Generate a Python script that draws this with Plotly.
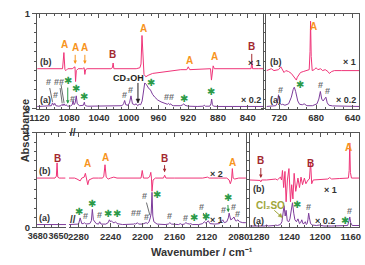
import math
import plotly.graph_objects as go

# ---------------- data (wavenumber / cm-1, absorbance as displayed) ----------------
TL_B = [(1123, 0.42), (1110, 0.42), (1100, 0.425), (1092, 0.42), (1089, 0.42), (1087.2, 0.59), (1085.8, 0.41),
        (1084.5, 0.40), (1082, 0.42), (1076, 0.42), (1073.5, 0.43), (1072.3, 0.44), (1071.5, 0.285), (1070.5, 0.40),
        (1068, 0.42), (1062, 0.42), (1060, 0.43), (1059, 0.36), (1058, 0.41), (1056, 0.42), (1040, 0.42),
        (1024, 0.42), (1022, 0.43), (1021, 0.48), (1020, 0.42), (1005, 0.42), (990, 0.42), (985, 0.43),
        (983.5, 0.47), (982.2, 0.77), (981, 0.50), (979.5, 0.36), (977, 0.335), (974, 0.35), (968, 0.37),
        (960, 0.38), (950, 0.39), (940, 0.40), (930, 0.41), (922, 0.41), (920, 0.44), (918, 0.41), (905, 0.415),
        (892, 0.42), (890, 0.42), (888.8, 0.30), (887.8, 0.41), (886.5, 0.45), (885, 0.42), (870, 0.42),
        (850, 0.42), (837, 0.42), (835.5, 0.42), (834.5, 0.50), (833.5, 0.42), (825, 0.42), (819, 0.42)]

TL_A = [(1123, 0.022), (1108, 0.023), (1104, 0.03), (1102.5, 0.06), (1101, 0.035), (1099.5, 0.055), (1098, 0.03),
        (1094, 0.025), (1091, 0.03), (1089.5, 0.045), (1088.5, 0.03), (1087, 0.05), (1085.5, 0.03), (1084.5, 0.04),
        (1083.3, 0.03), (1082, 0.025), (1078, 0.028), (1076, 0.04), (1074.8, 0.085), (1073.5, 0.04), (1072, 0.06),
        (1070.6, 0.134), (1069.2, 0.05), (1066, 0.03), (1061, 0.035), (1059.7, 0.067), (1059, 0.04), (1058.2, 0.03),
        (1055, 0.025), (1040, 0.025), (1020, 0.025), (1009, 0.03), (1007, 0.05), (1005.5, 0.085), (1004, 0.04),
        (1001, 0.035), (999, 0.06), (997, 0.134), (995, 0.05), (992, 0.04), (990, 0.05), (988, 0.03), (986, 0.045),
        (984, 0.04), (982, 0.08), (980, 0.20), (978.5, 0.27), (976, 0.25), (973, 0.21), (971, 0.20), (968, 0.15),
        (965, 0.12), (961, 0.09), (956.5, 0.07), (952, 0.055), (948, 0.045), (946.5, 0.055), (945, 0.04),
        (943.5, 0.05), (942, 0.035), (940, 0.03), (936, 0.028), (930, 0.03), (927.5, 0.04), (926, 0.05),
        (924.5, 0.035), (920, 0.025), (908, 0.022), (900, 0.025), (898.5, 0.035), (897, 0.025), (891, 0.025),
        (889.5, 0.05), (888.5, 0.10), (887.5, 0.04), (886, 0.025), (880, 0.022), (860, 0.022), (840, 0.022),
        (825, 0.022), (819, 0.022)]

TR_B = [(734, 0.40), (729, 0.42), (726, 0.40), (721, 0.41), (718.5, 0.44), (717, 0.41), (715, 0.38), (713, 0.40),
        (710, 0.39), (707, 0.37), (704.5, 0.34), (703, 0.31), (701.5, 0.30), (700.5, 0.33), (699, 0.35),
        (697, 0.38), (694, 0.39), (690, 0.40), (687.5, 0.41), (686.6, 0.60), (686, 0.92), (685.3, 0.55),
        (684.2, 0.40), (682, 0.41), (680, 0.43), (678, 0.41), (675, 0.42), (673, 0.40), (670, 0.41), (667, 0.39),
        (665.5, 0.37), (663, 0.39), (660, 0.40), (652, 0.40), (642, 0.40), (633, 0.40)]

TR_A = [(734, 0.022), (728, 0.025), (724, 0.03), (722.3, 0.06), (721, 0.145), (719.7, 0.06), (718, 0.04),
        (716.5, 0.045), (714, 0.035), (710, 0.05), (707, 0.12), (705, 0.20), (703.8, 0.225), (702.3, 0.18),
        (700, 0.08), (698, 0.045), (695, 0.04), (693, 0.05), (690, 0.03), (684, 0.03), (679, 0.05), (677, 0.10),
        (675.3, 0.18), (673.8, 0.10), (672.3, 0.08), (670.8, 0.10), (669.3, 0.12), (667.8, 0.06), (666, 0.035),
        (662, 0.028), (655, 0.025), (645, 0.022), (633, 0.022)]

BLL_B = [(3682, 0.52), (3670, 0.52), (3660, 0.525), (3655, 0.52), (3653, 0.54), (3652, 0.68), (3651, 0.53),
         (3649, 0.52), (3645, 0.52), (3640, 0.52)]
BLL_A = [(3682, 0.03), (3660, 0.03), (3645, 0.03), (3639, 0.03)]

BLR_B = [(2292, 0.52), (2285, 0.52), (2282, 0.51), (2278, 0.49), (2276, 0.52), (2273, 0.53), (2271.5, 0.57),
         (2270, 0.52), (2268.5, 0.45), (2267, 0.50), (2265, 0.51), (2262, 0.52), (2255, 0.52), (2250, 0.52),
         (2248.5, 0.54), (2247, 0.66), (2245.5, 0.53), (2243, 0.51), (2240, 0.52), (2236, 0.53), (2232, 0.52),
         (2220, 0.52), (2210, 0.52), (2202, 0.52), (2200.5, 0.60), (2199, 0.52), (2193, 0.52), (2191, 0.54),
         (2189.8, 0.58), (2189, 0.52), (2188.3, 0.38), (2187, 0.50), (2184, 0.52), (2178, 0.52), (2174, 0.52),
         (2172.5, 0.55), (2171, 0.52), (2160, 0.52), (2140, 0.52), (2125, 0.52), (2119, 0.53), (2117, 0.52),
         (2105, 0.52), (2095, 0.52), (2092, 0.50), (2090.5, 0.46), (2089, 0.50), (2088, 0.62), (2087, 0.52),
         (2085, 0.51), (2080, 0.52), (2071, 0.52)]

BLR_A = [(2292, 0.03), (2285, 0.03), (2280, 0.035), (2278, 0.10), (2276, 0.04), (2274, 0.04), (2272.7, 0.05),
         (2271, 0.035), (2266, 0.04), (2264, 0.07), (2262.8, 0.19), (2261.5, 0.08), (2260.5, 0.07), (2258, 0.04),
         (2255, 0.035), (2253.6, 0.06), (2252, 0.035), (2246, 0.035), (2243, 0.05), (2241.5, 0.08), (2240.2, 0.06),
         (2239, 0.07), (2237, 0.05), (2235, 0.05), (2234, 0.06), (2232, 0.04), (2225, 0.03), (2214, 0.03),
         (2211, 0.035), (2210, 0.04), (2208.5, 0.035), (2206.6, 0.05), (2205, 0.035), (2200, 0.035), (2197, 0.04),
         (2195.6, 0.05), (2194, 0.04), (2192, 0.06), (2190.5, 0.10), (2189.3, 0.15), (2188.3, 0.37), (2187.3, 0.12),
         (2186, 0.06), (2182, 0.035), (2172, 0.03), (2168, 0.035), (2166, 0.05), (2164, 0.035), (2155, 0.03),
         (2153, 0.04), (2151, 0.03), (2148, 0.035), (2146, 0.05), (2144, 0.04), (2141, 0.035), (2140, 0.04),
         (2138, 0.03), (2130, 0.03), (2125, 0.04), (2123, 0.06), (2121, 0.045), (2119, 0.06), (2118, 0.07),
         (2116, 0.04), (2110, 0.035), (2104, 0.04), (2102, 0.06), (2100, 0.08), (2098, 0.05), (2095, 0.06),
         (2093, 0.10), (2092, 0.15), (2090, 0.08), (2088, 0.09), (2086, 0.11), (2084, 0.07), (2082.5, 0.07),
         (2081, 0.08), (2079, 0.06), (2075, 0.05), (2071, 0.05)]

BR_B = [(1292, 0.50), (1280, 0.50), (1278.5, 0.495), (1277.6, 0.48), (1276.5, 0.50), (1270, 0.50), (1262, 0.505),
        (1258, 0.51), (1256, 0.50), (1253, 0.52), (1252, 0.53), (1250.5, 0.50), (1249.3, 0.60), (1247.7, 0.42),
        (1246, 0.59), (1244.5, 0.27), (1242.8, 0.50), (1240.8, 0.62), (1238.8, 0.27), (1237.2, 0.45),
        (1235.6, 0.30), (1234, 0.57), (1231.9, 0.38), (1229, 0.52), (1227, 0.42), (1225, 0.53), (1223, 0.45),
        (1220.6, 0.52), (1218.6, 0.46), (1215.8, 0.50), (1214, 0.51), (1212.5, 0.69), (1211, 0.46), (1209, 0.50),
        (1200, 0.505), (1190, 0.51), (1187.5, 0.525), (1185, 0.51), (1175, 0.515), (1167, 0.515), (1163, 0.52),
        (1162, 0.60), (1161.2, 0.89), (1160.4, 0.58), (1159, 0.52), (1149, 0.52)]

BR_A = [(1292, 0.015), (1280, 0.015), (1272, 0.015), (1270, 0.025), (1268, 0.015), (1260, 0.02), (1258, 0.025),
        (1256, 0.02), (1252, 0.03), (1250, 0.06), (1249, 0.12), (1247.2, 0.23), (1245.7, 0.12), (1244.5, 0.18),
        (1243, 0.07), (1241, 0.06), (1239.5, 0.09), (1238, 0.20), (1236.2, 0.26), (1234.5, 0.15), (1233, 0.08),
        (1231, 0.06), (1229, 0.09), (1227, 0.04), (1225.5, 0.05), (1224, 0.08), (1222.5, 0.04), (1221, 0.04),
        (1219.4, 0.06), (1218, 0.03), (1217, 0.04), (1216, 0.08), (1215, 0.15), (1214, 0.10), (1212.5, 0.04),
        (1210, 0.025), (1205, 0.02), (1201, 0.025), (1195, 0.015), (1185, 0.015), (1175, 0.015), (1168.5, 0.02),
        (1164, 0.02), (1162.5, 0.06), (1161.2, 0.11), (1160, 0.05), (1158, 0.02), (1149, 0.02)]

# ---------------- styling ----------------
PINK = "#ef3478"
PURPLE = "#7d3c9b"
ORANGE = "#f7941d"
DARKRED = "#a3282e"
GRAY = "#6d6e71"
GREEN = "#2b9a48"
OLIVE = "#a0a63a"
DARK = "#333333"
AX = "#555555"
FONT = "Liberation Sans"
W, H = 365, 265

TOP = (8, 107)
BOT = (132, 231)

# panel geometry: (pixel domain, wavenumber range, row)
PANELS = {
    1: ((29, 263), [1123.3, 819], TOP),
    2: ((266, 362), [734.4, 633], TOP),
    3: ((29, 59), [3681, 3639], BOT),
    4: ((62, 245), [2292, 2071], BOT),
    5: ((249, 362), [1292, 1149], BOT),
}


def px(v):
    return v / W


def py(v):
    return 1 - v / H


fig = go.Figure()


def add(pts, k, color):
    xs = [p[0] for p in pts]
    ys = [p[1] for p in pts]
    s = "" if k == 1 else str(k)
    fig.add_trace(go.Scatter(x=xs, y=ys, xaxis="x" + s, yaxis="y" + s, mode="lines",
                             line=dict(color=color, width=1), hoverinfo="skip", showlegend=False))


add(TL_B, 1, PINK); add(TL_A, 1, PURPLE)
add(TR_B, 2, PINK); add(TR_A, 2, PURPLE)
add(BLL_B, 3, PINK); add(BLL_A, 3, PURPLE)
add(BLR_B, 4, PINK); add(BLR_A, 4, PURPLE)
add(BR_B, 5, PINK); add(BR_A, 5, PURPLE)

tickfont = dict(family=FONT, size=9.5, color=DARK, weight="bold")


def xax(k, tick0=0, dtick=40):
    dom, rng, row = PANELS[k]
    s = "" if k == 1 else str(k)
    return dict(domain=[px(dom[0]), px(dom[1])], range=rng, anchor="y" + s, showline=True, linecolor=AX,
                linewidth=1, mirror="ticks", ticks="inside", ticklen=4, tickcolor=AX, tickwidth=1,
                tickmode="linear", tick0=tick0, dtick=dtick, tickfont=tickfont, tickangle=0,
                showgrid=False, zeroline=False,
                minor=dict(ticks="inside", ticklen=2, tickmode="linear", tick0=0, dtick=10, tickcolor=AX,
                           showgrid=False))


def yax(k, labels=True, mirror=True, side="left", ticks=True):
    dom, rng, row = PANELS[k]
    s = "" if k == 1 else str(k)
    d = dict(domain=[py(row[1]), py(row[0])], range=[0, 1], anchor="x" + s, side=side, showline=True,
             linecolor=AX, linewidth=1, mirror=mirror, tickmode="linear", tick0=0, dtick=1,
             showticklabels=labels, tickfont=tickfont, showgrid=False, zeroline=False)
    if ticks:
        d.update(ticks="outside", ticklen=4, tickcolor=AX, tickwidth=1,
                 minor=dict(ticks="outside", ticklen=2, tickmode="linear", tick0=0, dtick=0.1, tickcolor=AX,
                            showgrid=False))
    else:
        d.update(ticks="")
    return d


x3 = xax(3, tick0=3650, dtick=30)
x3["tickfont"] = dict(family=FONT, size=9, color=DARK, weight="bold")

fig.update_layout(
    width=W, height=H, margin=dict(l=0, r=0, t=0, b=0), paper_bgcolor="white", plot_bgcolor="white",
    font=dict(family=FONT, color=DARK),
    xaxis=xax(1), yaxis=yax(1),
    xaxis2=xax(2), yaxis2=yax(2, labels=False),
    xaxis3=x3, yaxis3=yax(3, mirror=False),
    xaxis4=xax(4), yaxis4=yax(4, labels=False, mirror=False, side="right", ticks=False),
    xaxis5=xax(5), yaxis5=yax(5, labels=False),
)


def T(text, k, x, y, color, size=10, xanchor="center", family=FONT, head=None, arrowhead=2):
    s = "" if k == 1 else str(k)
    d = dict(text=text, xref="x" + s, yref="y" + s, x=x, y=y, showarrow=False, xanchor=xanchor, yanchor="middle",
             font=dict(family=family, size=size, color=color, weight="bold"), borderpad=0)
    if head is not None:
        d.update(showarrow=True, axref="x" + s, ayref="y" + s, ax=x, ay=y, x=head[0], y=head[1],
                 arrowcolor=color, arrowwidth=1, arrowhead=arrowhead, arrowsize=0.7, standoff=0, startstandoff=1)
    fig.add_annotation(**d)


def scales(k):
    dom, rng, row = PANELS[k]
    sx = (dom[1] - dom[0]) / (rng[0] - rng[1])  # px per cm-1 (reversed axis)
    sy = (row[1] - row[0]) / 1.0               # px per absorbance unit
    return sx, sy


def line_arrow(k, tail, head, color, with_head=True):
    s = "" if k == 1 else str(k)
    fig.add_shape(type="line", xref="x" + s, yref="y" + s, x0=tail[0], y0=tail[1], x1=head[0], y1=head[1],
                  line=dict(color=color, width=1))
    if not with_head:
        return
    sx, sy = scales(k)
    dxp = -(head[0] - tail[0]) * sx
    dyp = -(head[1] - tail[1]) * sy
    n = math.hypot(dxp, dyp)
    ux, uy = dxp / n, dyp / n
    L, hw = 4.0, 2.0
    bx, by = -L * ux, -L * uy
    pts = [(0, 0), (bx - hw * uy, by + hw * ux), (bx + hw * uy, by - hw * ux)]
    coords = [(head[0] - ox / sx, head[1] - oy / sy) for ox, oy in pts]
    path = "M {} {} L {} {} L {} {} Z".format(*[c for p in coords for c in p])
    fig.add_shape(type="path", xref="x" + s, yref="y" + s, path=path, fillcolor=color,
                  line=dict(color=color, width=0.5))


STAR = "✱"
SF = "DejaVu Sans"

# top-left
T("A", 1, 1087, 0.67, ORANGE)
T("A", 1, 1072, 0.64, ORANGE, head=(1072, 0.47))
T("A", 1, 1059, 0.64, ORANGE, head=(1059, 0.47))
T("B", 1, 1022, 0.57, DARKRED)
T("A", 1, 980.6, 0.84, ORANGE)
T("A", 1, 918.7, 0.51, ORANGE)
T("A", 1, 885, 0.55, ORANGE)
T("B", 1, 834.6, 0.65, DARKRED, head=(834.6, 0.50), arrowhead=0)
T("(b)", 1, 1120.5, 0.49, DARK, size=9, xanchor="left")
T("(a)", 1, 1120.5, 0.085, DARK, size=9, xanchor="left")
T("× 1", 1, 821, 0.48, DARK, size=9, xanchor="right")
T("× 0.2", 1, 821, 0.085, DARK, size=9, xanchor="right")
T("#", 1, 1108, 0.285, GRAY, size=9, head=(1102.5, 0.07), arrowhead=0)
T("#", 1, 1099, 0.145, GRAY, size=9)
T("##", 1, 1093.5, 0.285, GRAY, size=9, head=(1089.5, 0.055), arrowhead=0)
line_arrow(1, (1091, 0.25), (1087, 0.06), GRAY, with_head=False)
T(STAR, 1, 1082, 0.295, GREEN, size=10, family=SF, head=(1082, 0.05), arrowhead=2)
T("#", 1, 1075.6, 0.10, GRAY, size=9)
T(STAR, 1, 1070.6, 0.21, GREEN, size=10, family=SF)
T(STAR, 1, 1060, 0.125, GREEN, size=10, family=SF)
T("#", 1, 1005.5, 0.145, GRAY, size=9)
T("#", 1, 998, 0.2, GRAY, size=9)
T("CD₃OH", 1, 1000, 0.32, "#231f20", size=9)
line_arrow(1, (987.6, 0.27), (987.6, 0.06), "#231f20")
T(STAR, 1, 970, 0.27, GREEN, size=10, family=SF)
T("##", 1, 946, 0.117, GRAY, size=9)
T(STAR, 1, 926, 0.11, GREEN, size=10, family=SF)
T(STAR, 1, 890, 0.18, GREEN, size=10, family=SF)

# top-right
T("A", 2, 683, 0.87, ORANGE)
T("(b)", 2, 731.5, 0.49, DARK, size=9, xanchor="left")
T("× 1", 2, 635, 0.49, DARK, size=9, xanchor="right")
T("(a)", 2, 731.5, 0.085, DARK, size=9, xanchor="left")
T("× 0.2", 2, 635, 0.085, DARK, size=9, xanchor="right")
T("#", 2, 718.5, 0.2, GRAY, size=9)
T(STAR, 2, 698, 0.25, GREEN, size=10, family=SF)
T("#", 2, 675.5, 0.245, GRAY, size=9)
T("#", 2, 668, 0.19, GRAY, size=9)

# bottom-left (left segment)
T("B", 3, 3652, 0.73, DARKRED)
T("(b)", 3, 3680, 0.59, DARK, size=9, xanchor="left")
T("(a)", 3, 3680, 0.10, DARK, size=9, xanchor="left")

# bottom-left (right segment)
T("A", 4, 2269, 0.67, ORANGE)
T("A", 4, 2247, 0.74, ORANGE)
T("B", 4, 2172.6, 0.73, DARKRED, head=(2172.6, 0.58))
T("× 2", 4, 2099, 0.56, DARK, size=9, xanchor="right")
T("A", 4, 2088, 0.68, ORANGE)
T(STAR, 4, 2279, 0.17, GREEN, size=10, family=SF)
T("#", 4, 2271, 0.125, GRAY, size=9)
T(STAR, 4, 2263, 0.25, GREEN, size=10, family=SF)
T("#", 4, 2253.5, 0.13, GRAY, size=9)
T(STAR, 4, 2243, 0.15, GREEN, size=10, family=SF)
T(STAR, 4, 2232.5, 0.15, GREEN, size=10, family=SF)
T("##", 4, 2208, 0.15, GRAY, size=9)
T("#", 4, 2195.6, 0.11, GRAY, size=9)
T("#", 4, 2197.4, 0.33, GRAY, size=9, head=(2191, 0.13), arrowhead=0)
T(STAR, 4, 2181.6, 0.35, GREEN, size=10, family=SF)
T("#", 4, 2166, 0.125, GRAY, size=9)
T("#", 4, 2146, 0.10, GRAY, size=9)
T(STAR, 4, 2136, 0.10, GREEN, size=10, family=SF)
T("#", 4, 2127, 0.22, GRAY, size=9, head=(2121, 0.07), arrowhead=0)
T(STAR, 4, 2120.5, 0.12, GREEN, size=10, family=SF)
T("× 1", 4, 2099, 0.075, DARK, size=9, xanchor="right")
T("#", 4, 2099, 0.185, GRAY, size=9)
T(STAR, 4, 2094, 0.31, GREEN, size=10, family=SF, head=(2093, 0.16))
T("#", 4, 2086, 0.21, GRAY, size=9)
T("#", 4, 2081, 0.14, GRAY, size=9)

# bottom-right
T("B", 5, 1277.6, 0.70, DARKRED, head=(1277.6, 0.52))
T("B", 5, 1212, 0.67, DARKRED)
T("A", 5, 1163.5, 0.84, ORANGE)
T("(b)", 5, 1289, 0.41, DARK, size=9, xanchor="left")
T("× 1", 5, 1177, 0.39, DARK, size=9, xanchor="right")
T("Cl₂SO", 5, 1265, 0.23, OLIVE, size=10)
line_arrow(5, (1260, 0.18), (1249.5, 0.105), OLIVE)
T(STAR, 5, 1230, 0.24, GREEN, size=10, family=SF)
T("#", 5, 1215, 0.215, GRAY, size=9)
T("(a)", 5, 1289, 0.07, DARK, size=9, xanchor="left")
T("× 0.2", 5, 1179, 0.07, DARK, size=9, xanchor="right")
T(STAR, 5, 1167, 0.07, GREEN, size=10, family=SF)
T("#", 5, 1161.2, 0.17, GRAY, size=9)

# global texts
fig.add_annotation(text="Absorbance", xref="paper", yref="paper", x=px(8), y=py(130), showarrow=False,
                   textangle=-90, font=dict(family=FONT, size=11, color=DARK, weight="bold"))
fig.add_annotation(text="Wavenumber / cm⁻¹", xref="paper", yref="paper", x=px(200), y=py(264.5),
                   xanchor="center", yanchor="bottom", showarrow=False,
                   font=dict(family=FONT, size=11, color=DARK, weight="bold"))
for yy in (BOT[0], BOT[1]):
    fig.add_annotation(text="//", xref="paper", yref="paper", x=px(60.5), y=py(yy), showarrow=False,
                       font=dict(family=FONT, size=10, color=DARK, weight="bold"))

fig.write_html("out.html")
